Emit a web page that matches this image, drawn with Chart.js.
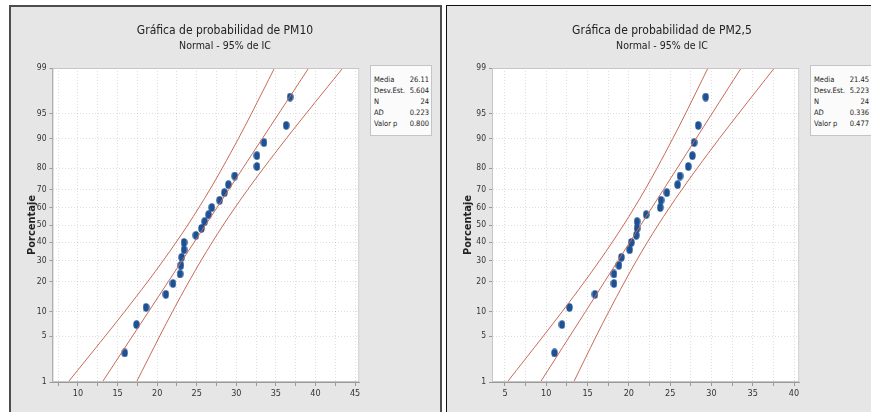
<!DOCTYPE html>
<html>
<head>
<meta charset="utf-8">
<title>Gráfica de probabilidad PM10 / PM2,5</title>
<script src="https://cdn.jsdelivr.net/npm/chart.js@4.4.1/dist/chart.umd.min.js"></script>
<style>
  html, body { margin: 0; padding: 0; background: #fff; width: 871px; height: 412px; overflow: hidden; }
  .panel { position: absolute; top: 5px; height: 430px; background: #e6e6e6; box-sizing: border-box; }
  #p1 { left: 9px; width: 433px; border: 2px solid #4d4d4d; border-bottom: none; }
  #p2 { left: 446px; width: 440px; border: 1px solid #111; border-bottom: none; }
  canvas { position: absolute; top: 6px; }
  #c1 { left: 10px; }
  #c2 { left: 447px; }
  .stats { position: absolute; top: 65px; width: 62px; box-sizing: border-box; padding: 8px 2px 6px 3px;
           background: #fbfbfb; border: 1px solid #c4c4c4;
           font: 7.5px "Liberation Sans Narrow", "DejaVu Sans Condensed", Roboto, sans-serif; color: #222; }
  .stats div { display: flex; justify-content: space-between; height: 11px; line-height: 11px; }
  #s1 { left: 370px; }
  #s2 { left: 810px; }
</style>
</head>
<body>
<div class="panel" id="p1"></div>
<div class="panel" id="p2"></div>
<canvas id="c1" width="430" height="406"></canvas>
<canvas id="c2" width="430" height="406"></canvas>
<div class="stats" id="s1"></div>
<div class="stats" id="s2"></div>
<script>
const probPct = [2.9, 7.0, 11.1, 15.2, 19.3, 23.4, 27.5, 31.6, 35.7, 39.8, 43.9, 48.0,
                 52.0, 56.1, 60.2, 64.3, 68.4, 72.5, 76.6, 80.7, 84.8, 88.9, 93.0, 97.1];

// valores observados
const pm10 = [15.9, 17.4, 18.6, 21.1, 22.0, 22.9, 23.0, 23.1, 23.4, 23.4, 24.9, 25.6,
              26.0, 26.5, 26.9, 27.9, 28.5, 29.0, 29.8, 32.6, 32.6, 33.5, 36.3, 36.8];
const pm25 = [11.0, 11.9, 12.8, 15.9, 18.2, 18.2, 18.8, 19.1, 20.1, 20.3, 20.9, 21.0,
              21.0, 22.1, 23.8, 23.9, 24.6, 25.9, 26.2, 27.2, 27.7, 27.9, 28.4, 29.3];

// etiquetas del eje de porcentaje (también niveles de la recta y de las bandas)
const pctTicks = [1, 5, 10, 20, 30, 40, 50, 60, 70, 80, 90, 95, 99];

// recta ajustada y bandas del IC 95% en cada nivel de pctTicks
const pm10Fit  = [13.08, 16.89, 18.93, 21.39, 23.17, 24.69, 26.11, 27.53, 29.05, 30.83, 33.29, 35.33, 39.15];
const pm10Low  = [8.76, 13.45, 15.90, 18.79, 20.78, 22.41, 23.87, 25.25, 26.66, 28.22, 30.27, 31.89, 34.83];
const pm10High = [17.39, 20.33, 21.95, 24.00, 25.56, 26.97, 28.35, 29.81, 31.44, 33.44, 36.32, 38.77, 43.46];
const pm25Fit  = [9.30, 12.86, 14.76, 17.05, 18.71, 20.13, 21.45, 22.77, 24.19, 25.85, 28.14, 30.04, 33.60];
const pm25Low  = [5.28, 9.65, 11.94, 14.62, 16.48, 18.00, 19.36, 20.65, 21.96, 23.41, 25.32, 26.84, 29.58];
const pm25High = [13.32, 16.06, 17.58, 19.49, 20.94, 22.25, 23.54, 24.90, 26.42, 28.28, 30.96, 33.25, 37.62];

// cuadro de estadísticos
const statLabels = ['Media', 'Desv.Est.', 'N', 'AD', 'Valor p'];
const pm10Stats = ['26.11', '5.604', '24', '0.223', '0.800'];
const pm25Stats = ['21.45', '5.223', '24', '0.336', '0.477'];

const FONT = '"Liberation Sans Narrow", "DejaVu Sans Condensed", Roboto, sans-serif';

// inversa de la normal (Acklam), para la escala de probabilidad
function qnorm(p) {
    const a = [-3.969683028665376e+01, 2.209460984245205e+02, -2.759285104469687e+02, 1.383577518672690e+02, -3.066479806614716e+01, 2.506628277459239e+00];
    const b = [-5.447609879822406e+01, 1.615858368580409e+02, -1.556989798598866e+02, 6.680131188771972e+01, -1.328068155288572e+01];
    const c = [-7.784894002430293e-03, -3.223964580411365e-01, -2.400758277161838e+00, -2.549732539343734e+00, 4.374664141464968e+00, 2.938163982698783e+00];
    const d = [7.784695709041462e-03, 3.224671290700398e-01, 2.445134137142996e+00, 3.754408661907416e+00];
    const pl = 0.02425;
    let q, r;
    if (p < pl) {
        q = Math.sqrt(-2 * Math.log(p));
        return (((((c[0]*q+c[1])*q+c[2])*q+c[3])*q+c[4])*q+c[5]) / ((((d[0]*q+d[1])*q+d[2])*q+d[3])*q+1);
    }
    if (p > 1 - pl) {
        q = Math.sqrt(-2 * Math.log(1 - p));
        return -(((((c[0]*q+c[1])*q+c[2])*q+c[3])*q+c[4])*q+c[5]) / ((((d[0]*q+d[1])*q+d[2])*q+d[3])*q+1);
    }
    q = p - 0.5; r = q * q;
    return (((((a[0]*r+a[1])*r+a[2])*r+a[3])*r+a[4])*r+a[5])*q / (((((b[0]*r+b[1])*r+b[2])*r+b[3])*r+b[4])*r+1);
}

// escala de probabilidad normal
class ProbabilityScale extends Chart.LinearScale {
    getPixelForValue(value) {
        const z0 = qnorm(this.min / 100), z1 = qnorm(this.max / 100);
        const p = Math.min(Math.max(value, 0.01), 99.99);
        return this.getPixelForDecimal((qnorm(p / 100) - z0) / (z1 - z0));
    }
    getValueForPixel(pixel) {
        const z0 = qnorm(this.min / 100), z1 = qnorm(this.max / 100);
        const z = z0 + this.getDecimalForPixel(pixel) * (z1 - z0);
        let lo = 0.01, hi = 99.99;
        for (let i = 0; i < 40; i++) {
            const m = (lo + hi) / 2;
            if (qnorm(m / 100) < z) lo = m; else hi = m;
        }
        return lo;
    }
}
ProbabilityScale.id = 'probability';
ProbabilityScale.defaults = Chart.LinearScale.defaults;
Chart.register(ProbabilityScale);

// fondo blanco y marco del área de trazado
const plotFrame = {
    id: 'plotFrame',
    beforeDraw(chart) {
        const {ctx, chartArea: a} = chart;
        ctx.save();
        ctx.fillStyle = '#ffffff';
        ctx.fillRect(a.left, a.top, a.right - a.left, a.bottom - a.top);
        ctx.restore();
    },
    afterDraw(chart) {
        const {ctx, chartArea: a} = chart;
        ctx.save();
        ctx.strokeStyle = '#c6c6c6';
        ctx.lineWidth = 1;
        ctx.strokeRect(a.left + 0.5, a.top + 0.5, a.right - a.left - 1, a.bottom - a.top - 1);
        ctx.restore();
    }
};

function dot() {
    const c = document.createElement('canvas');
    c.width = 7; c.height = 9;
    const g = c.getContext('2d');
    g.fillStyle = '#1d5194';
    g.beginPath();
    g.ellipse(3.5, 4.5, 3.2, 4.2, 0, 0, Math.PI * 2);
    g.fill();
    return c;
}

function toPoints(xs, ys) {
    return xs.map((x, i) => ({x: x, y: ys[i]}));
}

function makeChart(id, title, values, fit, low, high, xMin, xMax, yWidth, rightGap, yTitlePad) {
    const lineColor = '#c86a58';
    const lineDs = (data) => ({
        type: 'line', data: data, showLine: true, pointRadius: 0,
        borderColor: lineColor, borderWidth: 1, tension: 0.35, fill: false
    });
    return new Chart(document.getElementById(id), {
        type: 'scatter',
        data: {
            datasets: [
                lineDs(toPoints(low, pctTicks)),
                lineDs(toPoints(fit, pctTicks)),
                lineDs(toPoints(high, pctTicks)),
                {
                    type: 'scatter',
                    data: toPoints(values, probPct),
                    pointStyle: dot(),
                    pointRadius: 4
                }
            ]
        },
        options: {
            responsive: false,
            animation: false,
            layout: { padding: 0 },
            plugins: {
                legend: { display: false },
                tooltip: { enabled: false },
                title: {
                    display: true, text: title, color: '#222',
                    font: { family: FONT, size: 12, weight: 'normal', lineHeight: 1.25 },
                    padding: { top: 17.5, bottom: 0 }
                },
                subtitle: {
                    display: true, text: 'Normal - 95% de IC', color: '#222',
                    font: { family: FONT, size: 10.5, weight: 'normal', lineHeight: 1.2 },
                    padding: { top: 1, bottom: 15.9 }
                }
            },
            scales: {
                x: {
                    type: 'linear', position: 'bottom', min: xMin, max: xMax,
                    afterFit: s => { s.height = 30; },
                    ticks: {
                        stepSize: 2.5, includeBounds: false, autoSkip: false, maxRotation: 0,
                        color: '#333', padding: 2,
                        font: { family: FONT, size: 9 },
                        callback: v => (v % 5 === 0 ? String(v) : '')
                    },
                    grid: { color: 'rgba(0,0,0,0.13)', tickLength: 4, tickColor: '#9a9a9a' },
                    border: { color: '#9a9a9a', dash: [1, 2] }
                },
                y: {
                    type: 'probability', position: 'left', min: 1, max: 99,
                    afterFit: s => { s.width = yWidth; },
                    afterBuildTicks: s => { s.ticks = pctTicks.map(v => ({ value: v })); },
                    ticks: {
                        autoSkip: false, color: '#333', padding: 3,
                        font: { family: FONT, size: 8.5 },
                        callback: v => String(v)
                    },
                    grid: { color: 'rgba(0,0,0,0.13)', tickLength: 3, tickColor: '#9a9a9a' },
                    border: { color: '#9a9a9a', dash: [1, 2] },
                    title: {
                        display: true, text: 'Porcentaje', color: '#222',
                        font: { family: FONT, size: 11, weight: 'bold', lineHeight: 1.2 },
                        padding: { top: yTitlePad, bottom: 0 }
                    }
                },
                yr: {
                    type: 'linear', position: 'right', display: true,
                    afterFit: s => { s.width = rightGap; },
                    ticks: { display: false },
                    grid: { display: false },
                    border: { display: false }
                }
            }
        },
        plugins: [plotFrame]
    });
}

function fillStats(id, values) {
    const box = document.getElementById(id);
    statLabels.forEach((lab, i) => {
        const row = document.createElement('div');
        const a = document.createElement('span');
        const b = document.createElement('span');
        a.textContent = lab;
        b.textContent = values[i];
        row.appendChild(a);
        row.appendChild(b);
        box.appendChild(row);
    });
}

document.addEventListener('DOMContentLoaded', function() {
    // Gráfica de PM10
    makeChart('c1', 'Gráfica de probabilidad de PM10', pm10, pm10Fit, pm10Low, pm10High,
              6.78, 45.54, 42.5, 80.7, 15.4);
    // Gráfica de PM2,5
    makeChart('c2', 'Gráfica de probabilidad de PM2,5', pm25, pm25Fit, pm25Low, pm25High,
              3.43, 40.64, 45, 77.7, 14.4);
    fillStats('s1', pm10Stats);
    fillStats('s2', pm25Stats);
});
</script>
</body>
</html>
